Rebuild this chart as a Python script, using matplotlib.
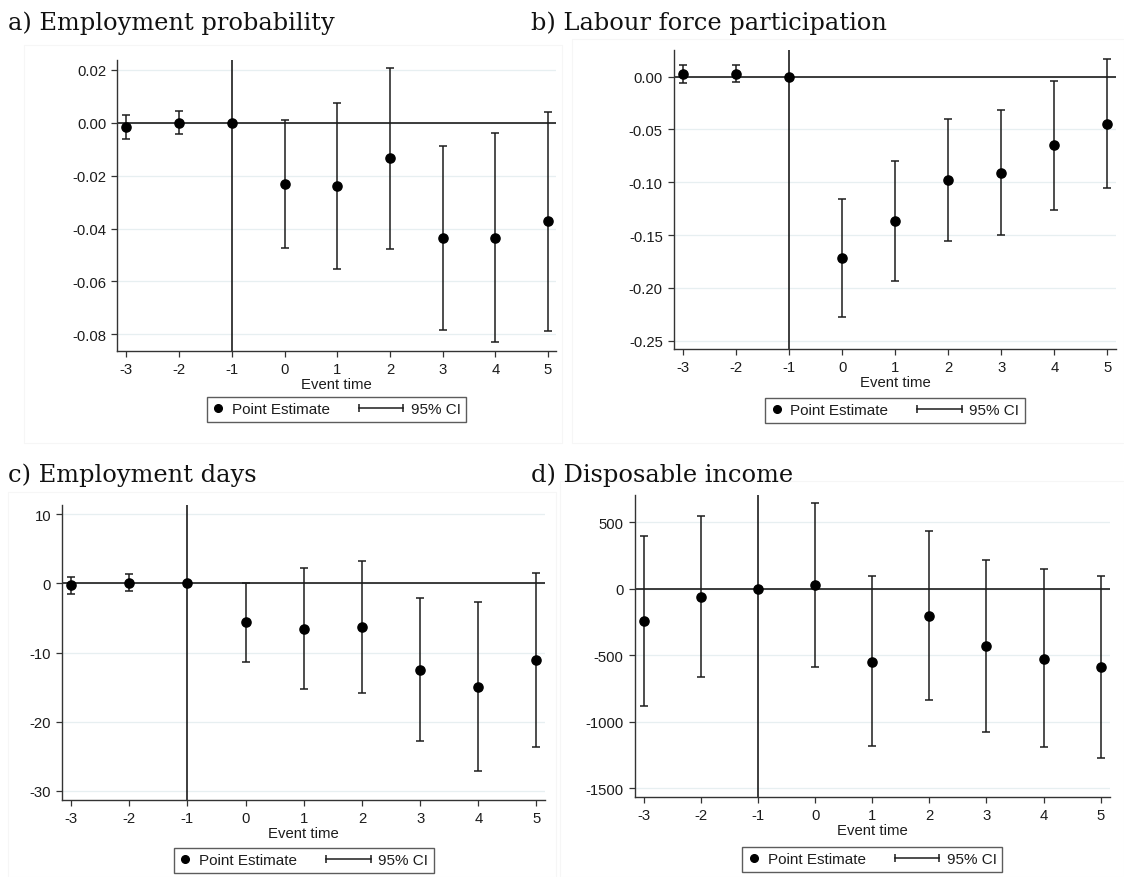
import numpy as np
import matplotlib
matplotlib.use("Agg")
import matplotlib.pyplot as plt
from matplotlib.lines import Line2D
from matplotlib.legend_handler import HandlerBase
from matplotlib.patches import Rectangle
from matplotlib.ticker import FormatStrFormatter

plt.rcParams["axes.unicode_minus"] = False

# ---- data: event-study estimates and 95% confidence bounds ----
event_time = [-3, -2, -1, 0, 1, 2, 3, 4, 5]

emp_prob_est = [-0.0016, 0.0000, 0.0, -0.0233, -0.0239, -0.0133, -0.0437, -0.0435, -0.0373]
emp_prob_lo = [-0.0060, -0.0043, np.nan, -0.0474, -0.0552, -0.0476, -0.0785, -0.0829, -0.0788]
emp_prob_hi = [0.0028, 0.0044, np.nan, 0.0010, 0.0074, 0.0207, -0.0089, -0.0040, 0.0042]

lfp_est = [0.0026, 0.0028, 0.0, -0.1717, -0.1369, -0.0978, -0.0909, -0.0650, -0.0445]
lfp_lo = [-0.0057, -0.0050, np.nan, -0.2273, -0.1935, -0.1553, -0.1499, -0.1260, -0.1057]
lfp_hi = [0.0108, 0.0108, np.nan, -0.1161, -0.0801, -0.0398, -0.0315, -0.0038, 0.0170]

days_est = [-0.29, 0.10, 0.0, -5.64, -6.61, -6.37, -12.55, -14.96, -11.10]
days_lo = [-1.55, -1.16, np.nan, -11.35, -15.34, -15.87, -22.82, -27.12, -23.73]
days_hi = [0.96, 1.35, np.nan, 0.09, 2.21, 3.27, -2.17, -2.66, 1.53]

income_est = [-243, -60, 0, 25, -547, -206, -431, -525, -590]
income_lo = [-879, -660, np.nan, -590, -1182, -838, -1077, -1190, -1273]
income_hi = [394, 544, np.nan, 642, 93, 431, 218, 148, 98]

titles = ["a) Employment probability", "b) Labour force participation",
          "c) Employment days", "d) Disposable income"]
y_ticks = [
    [-0.08, -0.06, -0.04, -0.02, 0.00, 0.02],
    [-0.25, -0.20, -0.15, -0.10, -0.05, 0.00],
    [-30, -20, -10, 0, 10],
    [-1500, -1000, -500, 0, 500],
]
x_label = "Event time"
legend_labels = ["Point Estimate", "95% CI"]

# ---- layout (pixels in a 1124 x 878 canvas) ----
W, H = 1124, 878
SANS = "Liberation Sans"
SERIF = "DejaVu Serif"
INK = "#1c1c1c"
GRID = "#e7eff1"

panels = [
    dict(est=emp_prob_est, lo=emp_prob_lo, hi=emp_prob_hi, box=(117.4, 556.0, 60.7, 352.0),
         xlim=(-3.17, 5.15), ylim=(-0.0863, 0.0238), fmt="%.2f",
         title_xy=(8, 30), legend_top=398, frame=(24, 46, 562, 444)),
    dict(est=lfp_est, lo=lfp_lo, hi=lfp_hi, box=(673.9, 1115.9, 50.7, 350.0),
         xlim=(-3.17, 5.16), ylim=(-0.258, 0.0256), fmt="%.2f",
         title_xy=(531, 30), legend_top=399, frame=(572, 40, 1124, 444)),
    dict(est=days_est, lo=days_lo, hi=days_hi, box=(62.3, 545.2, 506.0, 801.0),
         xlim=(-3.15, 5.15), ylim=(-31.35, 11.35), fmt="%d",
         title_xy=(8, 482), legend_top=849, frame=(8, 493, 556, 878)),
    dict(est=income_est, lo=income_lo, hi=income_hi, box=(634.7, 1109.8, 496.0, 798.3),
         xlim=(-3.16, 5.16), ylim=(-1568, 705), fmt="%d",
         title_xy=(531, 482), legend_top=848, frame=(560, 482, 1124, 878)),
]


class CIHandler(HandlerBase):
    """Legend key: horizontal range bar with end caps."""

    def create_artists(self, legend, orig_handle, xdescent, ydescent,
                       width, height, fontsize, trans):
        y = height / 2 - ydescent
        x1 = width - xdescent
        x0 = x1 - 2.9 * fontsize
        bar = Line2D([x0, x1], [y, y], color=INK, lw=1.1, transform=trans)
        caps = Line2D([x0, x1], [y, y], ls="none", marker="|", markersize=5.5,
                      markeredgewidth=1.1, color=INK, transform=trans)
        return [bar, caps]


fig = plt.figure(figsize=(W / 100, H / 100), dpi=100)
fig.patch.set_facecolor("white")

for i, p in enumerate(panels):
    # faint outline of each graph region
    fx0, fy0, fx1, fy1 = p["frame"]
    fig.patches.append(Rectangle((fx0 / W, 1 - fy1 / H), (fx1 - fx0) / W, (fy1 - fy0) / H,
                                 transform=fig.transFigure, fill=False,
                                 edgecolor="#f6f6f6", lw=0.8, zorder=0))

    l, r, t, b = p["box"]
    ax = fig.add_axes([l / W, 1 - b / H, (r - l) / W, (b - t) / H])
    ax.set_facecolor("white")

    ax.set_xlim(*p["xlim"])
    ax.set_ylim(*p["ylim"])
    ax.set_xticks(event_time)
    ax.set_yticks(y_ticks[i])
    ax.yaxis.set_major_formatter(FormatStrFormatter(p["fmt"]))

    ax.grid(axis="y", color=GRID, lw=0.9, zorder=0)
    ax.set_axisbelow(True)

    for side in ("top", "right"):
        ax.spines[side].set_visible(False)
    for side in ("left", "bottom"):
        ax.spines[side].set_color("#333333")
        ax.spines[side].set_linewidth(1.0)

    ax.tick_params(axis="both", direction="out", colors="#333333", labelcolor=INK,
                   labelsize=10.7, width=0.9, length=4.5)
    for lab in ax.get_xticklabels() + ax.get_yticklabels():
        lab.set_fontfamily(SANS)

    ax.set_xlabel(x_label, fontsize=10.7, family=SANS, color=INK, labelpad=0.5)

    # reference lines: zero effect and the omitted period
    ax.axhline(0, color=INK, lw=1.2, zorder=2)
    ax.axvline(-1, color=INK, lw=1.2, zorder=2)

    est = np.array(p["est"], dtype=float)
    lo = np.array(p["lo"], dtype=float)
    hi = np.array(p["hi"], dtype=float)
    xs = np.array(event_time, dtype=float)
    ok = ~np.isnan(lo)
    ax.errorbar(xs[ok], est[ok], yerr=[est[ok] - lo[ok], hi[ok] - est[ok]],
                fmt="none", ecolor=INK, elinewidth=1.1, capsize=2.6,
                capthick=1.1, zorder=3)
    ax.plot(xs, est, ls="none", marker="o", ms=6.6, color="black", zorder=4)

    # legend below the plot region
    h_pt = Line2D([], [], ls="none", marker="o", ms=5.5, color="black")
    h_ci = Line2D([], [], color=INK)
    cx = (l + r) / 2
    leg = ax.legend([h_pt, h_ci], legend_labels, handler_map={h_ci: CIHandler()},
                    ncol=2, loc="upper center",
                    bbox_to_anchor=(cx / W, 1 - p["legend_top"] / H),
                    bbox_transform=fig.transFigure,
                    prop={"family": SANS, "size": 11},
                    frameon=True, fancybox=False, shadow=False,
                    handlelength=0.8, handletextpad=0.5, columnspacing=4.0,
                    borderpad=0.35, borderaxespad=0.0)
    fr = leg.get_frame()
    fr.set_edgecolor("#333333")
    fr.set_linewidth(1.0)
    for txt in leg.get_texts():
        txt.set_color(INK)

    tx, ty = p["title_xy"]
    fig.text(tx / W, 1 - ty / H, titles[i], family=SERIF, fontsize=17.4,
             color="#111111", ha="left", va="baseline")

fig.savefig("out.png", dpi=100, facecolor="white")
